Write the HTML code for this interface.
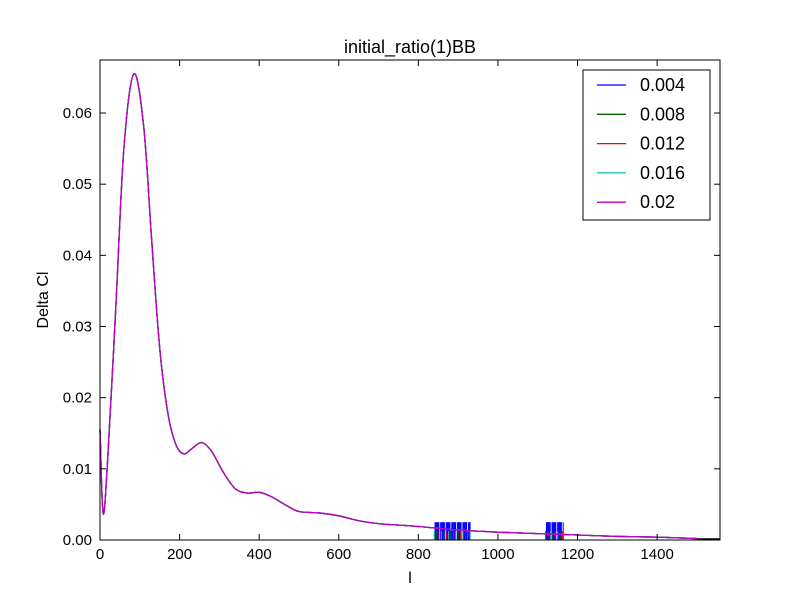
<!DOCTYPE html>
<html><head><meta charset="utf-8"><style>body{margin:0;background:#fff}svg{display:block;font-family:"Liberation Sans","DejaVu Sans",sans-serif}</style></head>
<body>
<svg id="c" width="800" height="600"></svg>
<script>
const ells=[0,8,20,40,60,85,110,130,150,170,190,210,230,255,280,310,340,370,400,430,470,500,550,600,650,700,800,900,1000,1100,1200,1300,1400,1500];
const deltaCl=[0.0155,0.0037,0.012,0.033,0.055,0.0655,0.058,0.042,0.027,0.018,0.0135,0.0121,0.0128,0.0137,0.0125,0.0095,0.0072,0.0066,0.0067,0.0061,0.0048,0.0040,0.0038,0.0034,0.0027,0.0023,0.0019,0.0014,0.0011,0.0009,0.0007,0.0005,0.0004,0.0002];
const seriesNames=["0.004","0.008","0.012","0.016","0.02"];
const seriesColors=["#0000ff","#006400","#ff0000","#00bfbf","#bf00bf"];
const noiseStart=[840,1120];
const noiseEnd=[930,1165];
const noiseHeight=[0.0025,0.0025];
const xTicks=[0,200,400,600,800,1000,1200,1400];
const yTicks=[0,0.01,0.02,0.03,0.04,0.05,0.06];
const X0=100,X1=720,Y0=540,Y1=60,XMAX=1558,YMAX=0.06745;
const sx=v=>X0+v/XMAX*(X1-X0), sy=v=>Y0-v/YMAX*(Y0-Y1);
const svg=document.getElementById('c');const NS="http://www.w3.org/2000/svg";
function mk(t,a,txt){const e=document.createElementNS(NS,t);for(const k in a)e.setAttribute(k,a[k]);if(txt!==undefined)e.textContent=txt;svg.appendChild(e);return e;}
// noise blocks
noiseStart.forEach((s,i)=>{
  const g=mk('g',{});
  
  
  for(let l=s;l<=noiseEnd[i];l+=2){const ln=document.createElementNS(NS,'line');
    ln.setAttribute('x1',sx(l));ln.setAttribute('x2',sx(l));ln.setAttribute('y1',sy(0));ln.setAttribute('y2',sy(noiseHeight[i]));
    ln.setAttribute('stroke',(l%14<2)?'#ffffff':'#0000ff');ln.setAttribute('stroke-width','1');g.appendChild(ln);}
  for(let l=s;l<=noiseEnd[i];l+=6){const ln=document.createElementNS(NS,'line');
    ln.setAttribute('x1',sx(l));ln.setAttribute('x2',sx(l));ln.setAttribute('y1',sy(0));ln.setAttribute('y2',sy(noiseHeight[i]*0.5));
    ln.setAttribute('stroke',['#006400','#ff0000','#00bfbf'][(l/6|0)%3]);g.appendChild(ln);}
});
// smooth path via catmull-rom
function pathFor(){const p=ells.map((l,i)=>[sx(l),sy(deltaCl[i])]);let d=`M${p[0][0]},${p[0][1]}`;
  for(let i=0;i<p.length-1;i++){const a=p[Math.max(0,i-1)],b=p[i],c=p[i+1],e=p[Math.min(p.length-1,i+2)];
    const c1=[b[0]+(c[0]-a[0])/6,b[1]+(c[1]-a[1])/6],c2=[c[0]-(e[0]-b[0])/6,c[1]-(e[1]-b[1])/6];
    d+=` C${c1[0]},${c1[1]} ${c2[0]},${c2[1]} ${c[0]},${c[1]}`;}return d;}
seriesNames.forEach((n,i)=>{const e=mk('path',{d:pathFor(),fill:'none',stroke:seriesColors[i],'stroke-width':1.3});
  
  });
mk('line',{x1:sx(1500),x2:X1,y1:Y0-1,y2:Y0-1,stroke:'#000','stroke-width':1.5});
// frame
const fr=mk('rect',{x:X0,y:Y1,width:X1-X0,height:Y0-Y1,fill:'none',stroke:'#000','stroke-width':1});


xTicks.forEach(t=>{const x=sx(t);mk('line',{x1:x,x2:x,y1:Y0,y2:Y0-6,stroke:'#000'});mk('line',{x1:x,x2:x,y1:Y1,y2:Y1+6,stroke:'#000'});
  const e=mk('text',{x:x,y:Y0+19,'font-size':15,'text-anchor':'middle'},t);
  
  });
yTicks.forEach(t=>{const y=sy(t);mk('line',{x1:X0,x2:X0+6,y1:y,y2:y,stroke:'#000'});mk('line',{x1:X1,x2:X1-6,y1:y,y2:y,stroke:'#000'});
  const e=mk('text',{x:X0-8,y:y+5,'font-size':15,'text-anchor':'end'},t.toFixed(2));
  
  });
let e=mk('text',{x:410,y:53,'font-size':18,'text-anchor':'middle'},'initial_ratio(1)BB');


e=mk('text',{x:410,y:583,'font-size':16,'text-anchor':'middle'},'l');


e=mk('text',{x:48,y:300,'font-size':16,'text-anchor':'middle',transform:'rotate(-90 48 300)'},'Delta Cl');


e=mk('rect',{x:583,y:70,width:127,height:150,fill:'#fff',stroke:'#000'});


seriesNames.forEach((n,i)=>{const y=85+i*29.3;mk('line',{x1:597,x2:626,y1:y,y2:y,stroke:seriesColors[i],'stroke-width':1.3});
  const t=mk('text',{x:640,y:y+6,'font-size':18},n);
  
  });
</script>
</body></html>
